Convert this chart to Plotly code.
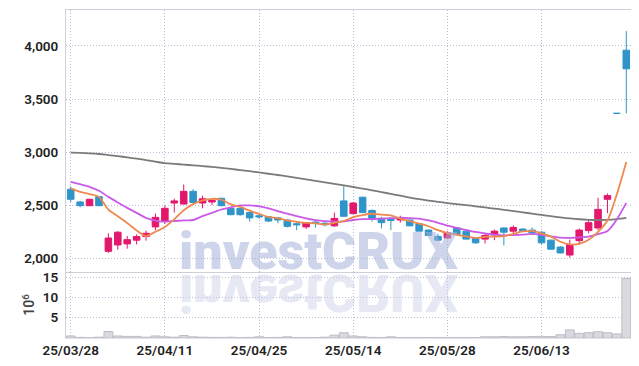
import plotly.graph_objects as go
from plotly.subplots import make_subplots

dates = ["25/03/28", "25/03/31", "25/04/01", "25/04/02", "25/04/03", "25/04/04", "25/04/07", "25/04/08",
         "25/04/09", "25/04/10", "25/04/11", "25/04/14", "25/04/15", "25/04/16", "25/04/17", "25/04/18",
         "25/04/21", "25/04/22", "25/04/23", "25/04/24", "25/04/25", "25/04/28", "25/04/29", "25/04/30",
         "25/05/02", "25/05/07", "25/05/08", "25/05/09", "25/05/12", "25/05/13", "25/05/14", "25/05/15",
         "25/05/16", "25/05/19", "25/05/20", "25/05/21", "25/05/22", "25/05/23", "25/05/26", "25/05/27",
         "25/05/28", "25/05/29", "25/05/30", "25/06/02", "25/06/04", "25/06/05", "25/06/09", "25/06/10",
         "25/06/11", "25/06/12", "25/06/13", "25/06/16", "25/06/17", "25/06/18", "25/06/19", "25/06/20",
         "25/06/23", "25/06/24", "25/06/25", "25/06/26"]

open_ = [2650, 2530, 2495, 2580, 2065, 2125, 2135, 2170, 2205, 2295,
         2345, 2520, 2510, 2630, 2520, 2530, 2565, 2470, 2470, 2430,
         2400, 2390, 2380, 2360, 2325, 2295, 2340, 2330, 2305, 2540,
         2420, 2575, 2450, 2375, 2365, 2360, 2360, 2325, 2265, 2205,
         2190, 2285, 2255, 2195, 2180, 2220, 2285, 2255, 2275, 2265,
         2245, 2170, 2105, 2030, 2165, 2260, 2285, 2555, 3365, 3960]
high = [2675, 2540, 2560, 2585, 2235, 2255, 2210, 2225, 2260, 2420,
        2495, 2560, 2695, 2650, 2590, 2560, 2570, 2475, 2475, 2440,
        2410, 2395, 2390, 2365, 2350, 2340, 2360, 2350, 2430, 2680,
        2530, 2580, 2460, 2390, 2370, 2400, 2365, 2330, 2270, 2230,
        2255, 2290, 2265, 2200, 2235, 2270, 2290, 2310, 2280, 2290,
        2255, 2175, 2115, 2175, 2280, 2360, 2570, 2610, 3365, 4140]
low = [2530, 2480, 2490, 2490, 2050, 2080, 2090, 2130, 2165, 2265,
       2325, 2430, 2510, 2515, 2470, 2500, 2490, 2405, 2400, 2345,
       2370, 2340, 2330, 2290, 2265, 2275, 2290, 2300, 2295, 2390,
       2415, 2425, 2345, 2280, 2265, 2335, 2300, 2255, 2210, 2160,
       2185, 2220, 2175, 2135, 2140, 2170, 2120, 2235, 2250, 2220,
       2130, 2080, 2045, 2005, 2130, 2235, 2265, 2425, 3365, 3365]
close = [2555, 2495, 2555, 2495, 2190, 2245, 2175, 2205, 2235, 2385,
         2470, 2540, 2630, 2525, 2560, 2545, 2495, 2410, 2410, 2380,
         2390, 2350, 2360, 2300, 2315, 2335, 2330, 2315, 2375, 2395,
         2520, 2430, 2375, 2335, 2355, 2375, 2305, 2255, 2215, 2170,
         2240, 2225, 2180, 2145, 2215, 2255, 2245, 2290, 2255, 2240,
         2145, 2085, 2050, 2130, 2265, 2335, 2460, 2590, 3365, 3785]

volume_millions = [0.5, 0.15, 0.1, 0.2, 1.6, 0.5, 0.4, 0.4, 0.2, 0.5,
                   0.3, 0.2, 0.6, 0.3, 0.2, 0.15, 0.15, 0.2, 0.1, 0.15,
                   0.3, 0.1, 0.15, 0.3, 0.1, 0.1, 0.1, 0.2, 0.7, 1.3,
                   0.5, 0.3, 0.15, 0.1, 0.3, 0.1, 0.1, 0.1, 0.1, 0.1,
                   0.1, 0.1, 0.1, 0.1, 0.3, 0.3, 0.35, 0.3, 0.3, 0.35,
                   0.4, 0.35, 0.8, 2.0, 1.15, 1.3, 1.55, 1.3, 1.0, 14.7]

ma5 = [2658, 2626, 2604, 2578, 2458, 2396, 2332, 2262, 2210, 2249,
       2294, 2367, 2452, 2510, 2545, 2560, 2551, 2507, 2484, 2448,
       2417, 2388, 2378, 2356, 2343, 2332, 2328, 2319, 2334, 2350,
       2387, 2407, 2419, 2411, 2403, 2374, 2349, 2325, 2301, 2264,
       2237, 2221, 2206, 2192, 2201, 2204, 2208, 2230, 2252, 2257,
       2235, 2203, 2155, 2130, 2135, 2173, 2248, 2356, 2603, 2907]
ma10 = [2720, 2698, 2673, 2635, 2578, 2525, 2474, 2427, 2380, 2354,
        2345, 2350, 2357, 2360, 2397, 2427, 2459, 2480, 2497, 2497,
        2489, 2470, 2443, 2420, 2396, 2375, 2358, 2349, 2345, 2347,
        2360, 2368, 2369, 2373, 2377, 2381, 2378, 2372, 2356, 2334,
        2306, 2285, 2266, 2247, 2233, 2221, 2215, 2218, 2222, 2229,
        2220, 2206, 2193, 2191, 2196, 2204, 2226, 2256, 2367, 2521]
ma60 = [2995, 2992, 2988, 2982, 2972, 2962, 2950, 2938, 2925, 2910,
        2896, 2889, 2882, 2875, 2868, 2860, 2851, 2841, 2831, 2820,
        2808, 2796, 2784, 2771, 2757, 2743, 2729, 2715, 2700, 2686,
        2671, 2656, 2640, 2623, 2606, 2589, 2572, 2556, 2543, 2531,
        2520, 2510, 2500, 2489, 2478, 2467, 2456, 2444, 2432, 2420,
        2408, 2396, 2385, 2375, 2367, 2362, 2360, 2361, 2368, 2380]

tick_dates = ["25/03/28", "25/04/11", "25/04/25", "25/05/14", "25/05/28", "25/06/13"]
price_ticks = [2000, 2500, 3000, 3500, 4000]
volume_ticks = [5, 10, 15]

UP = "#e2186c"
DOWN = "#2f95c8"
GRID = "#b9bdd8"
GRIDDASH = "1px,2px"
BORDER = "#cdcfdb"
FAMILY = "Roboto, 'Noto Sans', sans-serif"
TICKFONT = dict(family=FAMILY, size=13.5, color="#222222", weight=600)

n = len(dates)
flat = [open_[i] == close[i] for i in range(n)]
not_flat = [not f for f in flat]


def pick(arr, keep):
    return [arr[i] if keep[i] else None for i in range(n)]


fig = make_subplots(rows=2, cols=1, shared_xaxes=True, vertical_spacing=0)

fig.add_trace(go.Candlestick(
    x=dates, open=pick(open_, not_flat), high=pick(high, not_flat),
    low=pick(low, not_flat), close=pick(close, not_flat),
    increasing=dict(line=dict(color=UP, width=1), fillcolor=UP),
    decreasing=dict(line=dict(color=DOWN, width=1), fillcolor=DOWN),
    whiskerwidth=0, showlegend=False, hoverinfo="skip"), row=1, col=1)

# candles with open == close (drawn in the "down" colour as in the source)
fig.add_trace(go.Candlestick(
    x=dates, open=pick(open_, flat), high=pick(high, flat),
    low=pick(low, flat), close=pick(close, flat),
    increasing=dict(line=dict(color=DOWN, width=1), fillcolor=DOWN),
    decreasing=dict(line=dict(color=DOWN, width=1), fillcolor=DOWN),
    whiskerwidth=0, showlegend=False, hoverinfo="skip"), row=1, col=1)

for vals, col in [(ma60, "#7b7b7b"), (ma10, "#c95be8"), (ma5, "#ee8950")]:
    fig.add_trace(go.Scatter(x=dates, y=vals, mode="lines",
                             line=dict(color=col, width=1.8, shape="spline", smoothing=0.8),
                             showlegend=False, hoverinfo="skip"), row=1, col=1)

fig.add_trace(go.Bar(x=dates, y=volume_millions,
                     marker=dict(color="#d9d9df", line=dict(color="#bcbcc6", width=1)),
                     showlegend=False, hoverinfo="skip"), row=2, col=1)

split = 66 / 328

# the page body keeps its default 8px margin, so the figure is 8px smaller
fig.update_layout(
    width=631, height=358,
    margin=dict(l=58, r=8, t=2, b=28, autoexpand=False),
    paper_bgcolor="white", plot_bgcolor="white",
    showlegend=False, bargap=0.06, boxgap=0.2, boxgroupgap=0.13,
    font=TICKFONT,
)

fig.update_xaxes(type="category", range=[-0.5, n - 0.5], tickvals=tick_dates, ticktext=tick_dates,
                 showgrid=True, gridcolor=GRID, griddash=GRIDDASH, gridwidth=1,
                 zeroline=False, ticks="", automargin=False, tickfont=TICKFONT)
fig.update_xaxes(showticklabels=False, rangeslider=dict(visible=False),
                 showline=True, mirror=True, linecolor=BORDER, linewidth=1, row=1, col=1)
fig.update_xaxes(showticklabels=True, showline=True, linecolor="#e4e4ea", linewidth=1, row=2, col=1)

fig.update_yaxes(domain=[split, 1], range=[1870, 4339], tickvals=price_ticks, tickformat=",",
                 showgrid=True, gridcolor=GRID, griddash=GRIDDASH, gridwidth=1, zeroline=False,
                 showline=True, mirror=True, linecolor=BORDER, linewidth=1, automargin=False,
                 ticks="outside", ticklen=4, tickcolor="rgba(0,0,0,0)", tickfont=TICKFONT,
                 row=1, col=1)
fig.update_yaxes(domain=[0, split], range=[0, 16.3], tickvals=volume_ticks,
                 showgrid=True, gridcolor=GRID, griddash=GRIDDASH, gridwidth=1, zeroline=False,
                 showline=True, mirror=True, linecolor=BORDER, linewidth=1, automargin=False,
                 ticks="outside", ticklen=4, tickcolor="rgba(0,0,0,0)", tickfont=TICKFONT,
                 title=dict(text="10<sup>6</sup>", font=dict(family=FAMILY, size=14, color="#444"),
                            standoff=4),
                 row=2, col=1)

# watermark and its reflection
WM_FONT = "Roboto, Inter, sans-serif"
fig.add_annotation(text="investCRUX", xref="paper", yref="paper", x=0.4486, y=0.2622,
                   xanchor="center", yanchor="middle", showarrow=False,
                   font=dict(family=WM_FONT, size=52, weight=900, color="rgba(165,176,216,0.55)"))
fig.add_annotation(text="investCRUX", xref="paper", yref="paper", x=0.4486, y=0.1372,
                   xanchor="center", yanchor="middle", showarrow=False,
                   font=dict(family=WM_FONT, size=52, weight=900, color="rgba(200,206,230,0.45)"))

post = """
var gd = document.getElementById('{plot_id}');
function flipRefl(){
  var best = null, bestTop = -1e9;
  gd.querySelectorAll('text').forEach(function(t){
    if (t.textContent === 'investCRUX') {
      var r = t.getBoundingClientRect();
      if (r.top > bestTop) { bestTop = r.top; best = t; }
    }
  });
  if (best) {
    best.style.transformBox = 'fill-box';
    best.style.transformOrigin = '50% 50%';
    best.style.transform = 'scaleY(-1)';
  }
}
flipRefl();
"""

fig.write_html("out.html", post_script=post)
